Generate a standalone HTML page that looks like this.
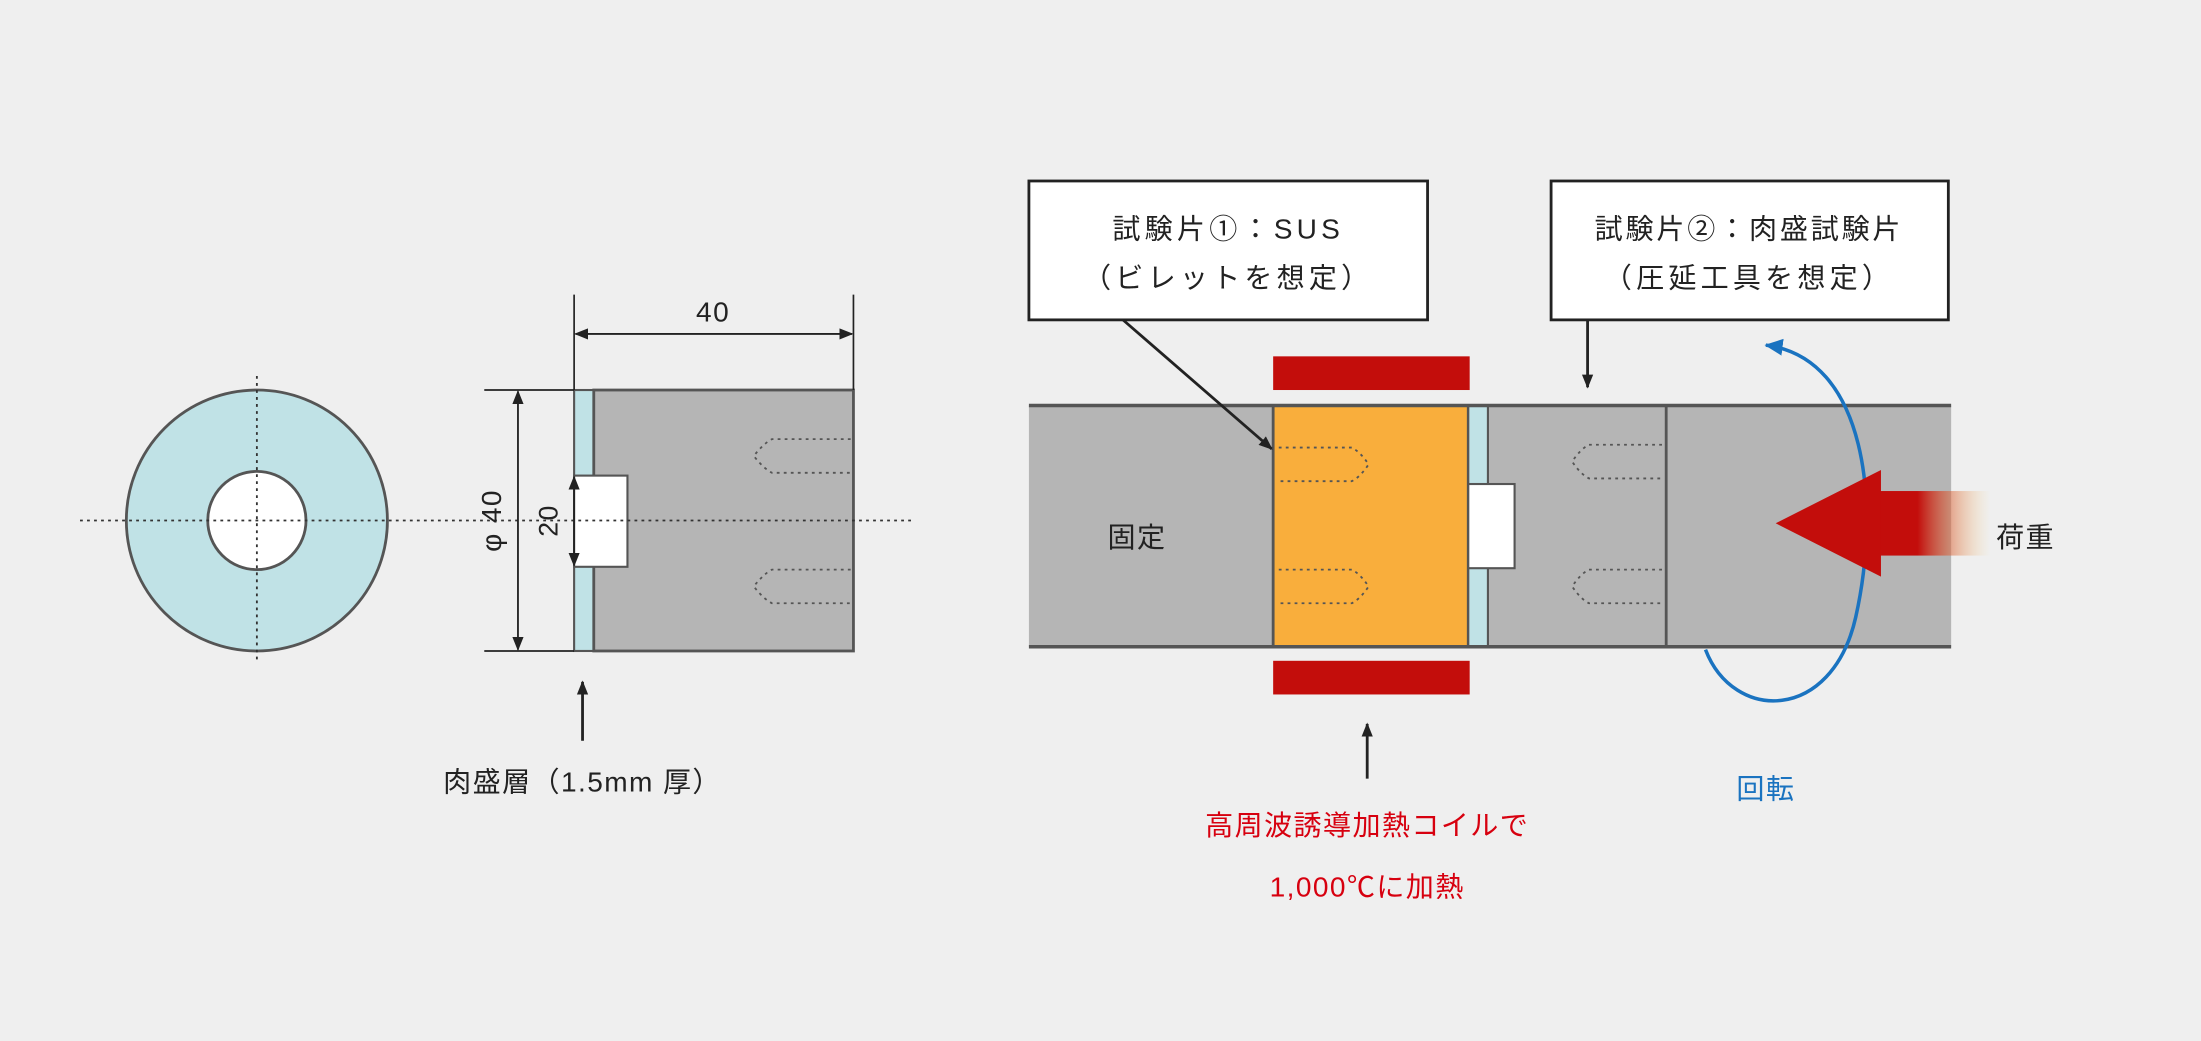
<!DOCTYPE html>
<html><head><meta charset="utf-8"><style>
html,body{margin:0;padding:0;background:#efefef;}
svg{display:block;}
text{font-family:"Liberation Sans","Noto Sans CJK JP",sans-serif;fill:#222;letter-spacing:1px;}
</style></head><body>
<svg width="2201" height="1041" viewBox="0 0 1568 742" preserveAspectRatio="none" xmlns="http://www.w3.org/2000/svg">
<defs>
<marker id="ah" markerWidth="10" markerHeight="10" refX="9" refY="5" orient="auto-start-reverse" markerUnits="userSpaceOnUse"><path d="M0,1 L10,5 L0,9 Z" fill="#222"/></marker>
<marker id="ab" markerWidth="14" markerHeight="14" refX="12" refY="7" orient="auto" markerUnits="userSpaceOnUse"><path d="M0,1 L13,7 L0,13 Z" fill="#1a73c0"/></marker>
<linearGradient id="g" x1="0" x2="1" y1="0" y2="0"><stop offset="0" stop-color="#c30d0b"/><stop offset="0.35" stop-color="#c30d0b"/><stop offset="1" stop-color="#f7d27a" stop-opacity="0"/></linearGradient>
</defs>
<rect width="1568" height="742" fill="#efefef"/>
<circle cx="183" cy="371" r="93" fill="#c0e2e6" stroke="#555" stroke-width="2"/>
<circle cx="183" cy="371" r="35" fill="#fff" stroke="#555" stroke-width="2"/>
<line x1="183" y1="268" x2="183" y2="472" stroke="#333" stroke-width="1.3" stroke-dasharray="2,3"/>
<rect x="409" y="278" width="14" height="186" fill="#c0e2e6" stroke="#555" stroke-width="1.5"/>
<rect x="423" y="278" width="185" height="186" fill="#b5b5b5" stroke="#555" stroke-width="2"/>
<rect x="409" y="339" width="38" height="65" fill="#fff" stroke="#555" stroke-width="1.5"/>
<line x1="57" y1="371" x2="650" y2="371" stroke="#333" stroke-width="1.3" stroke-dasharray="2,3"/>
<path d="M606,313 H550 Q544,316 537,325 Q544,334 550,337 H606" fill="none" stroke="#555" stroke-width="1.3" stroke-dasharray="2,3"/>
<path d="M606,406 H550 Q544,409 537,418 Q544,427 550,430 H606" fill="none" stroke="#555" stroke-width="1.3" stroke-dasharray="2,3"/>
<line x1="409" y1="210" x2="409" y2="278" stroke="#222" stroke-width="1.2"/>
<line x1="608" y1="210" x2="608" y2="278" stroke="#222" stroke-width="1.2"/>
<line x1="410" y1="238" x2="607" y2="238" stroke="#222" stroke-width="1.3" marker-end="url(#ah)" marker-start="url(#ah)"/>
<text x="508" y="229" font-size="20" text-anchor="middle">40</text>
<line x1="345" y1="278" x2="409" y2="278" stroke="#222" stroke-width="1.2"/>
<line x1="345" y1="464" x2="409" y2="464" stroke="#222" stroke-width="1.2"/>
<line x1="369" y1="279" x2="369" y2="463" stroke="#222" stroke-width="1.3" marker-end="url(#ah)" marker-start="url(#ah)"/>
<text transform="translate(357,371) rotate(-90)" font-size="20" text-anchor="middle">φ 40</text>
<line x1="409" y1="340" x2="409" y2="403" stroke="#222" stroke-width="1.3" marker-end="url(#ah)" marker-start="url(#ah)"/>
<text transform="translate(397,371) rotate(-90)" font-size="19" text-anchor="middle">20</text>
<line x1="415" y1="528" x2="415" y2="486" stroke="#222" stroke-width="2" marker-end="url(#ah)"/>
<text x="415" y="564" font-size="20" text-anchor="middle">肉盛層（1.5mm 厚）</text>
<rect x="733" y="289" width="657" height="172" fill="#b5b5b5"/>
<rect x="907" y="289" width="139" height="172" fill="#f9ae3c" stroke="#555" stroke-width="2"/>
<rect x="1046" y="289" width="14" height="172" fill="#c0e2e6" stroke="#555" stroke-width="1.5"/>
<rect x="1046" y="345" width="33" height="60" fill="#fff" stroke="#555" stroke-width="1.5"/>
<line x1="1187" y1="289" x2="1187" y2="461" stroke="#555" stroke-width="2"/>
<line x1="733" y1="289" x2="1390" y2="289" stroke="#555" stroke-width="2.5"/>
<line x1="733" y1="461" x2="1390" y2="461" stroke="#555" stroke-width="2.5"/>
<path d="M911,319 H963 Q969,322 975,331 Q969,340 963,343 H911" fill="none" stroke="#555" stroke-width="1.3" stroke-dasharray="2,3"/>
<path d="M911,406 H963 Q969,409 975,418 Q969,427 963,430 H911" fill="none" stroke="#555" stroke-width="1.3" stroke-dasharray="2,3"/>
<path d="M1184,317 H1132 Q1126,320 1120,329 Q1126,338 1132,341 H1184" fill="none" stroke="#555" stroke-width="1.3" stroke-dasharray="2,3"/>
<path d="M1184,406 H1132 Q1126,409 1120,418 Q1126,427 1132,430 H1184" fill="none" stroke="#555" stroke-width="1.3" stroke-dasharray="2,3"/>
<rect x="907" y="254" width="140" height="24" fill="#c30d0b"/>
<rect x="907" y="471" width="140" height="24" fill="#c30d0b"/>
<text x="810" y="390" font-size="20" text-anchor="middle">固定</text>
<rect x="733" y="129" width="284" height="99" fill="#fff" stroke="#222" stroke-width="2"/>
<text x="875" y="170" font-size="20" text-anchor="middle" style="letter-spacing:3px">試験片①：SUS</text>
<text x="875" y="205" font-size="20" text-anchor="middle" style="letter-spacing:3px">（ビレットを想定）</text>
<rect x="1105" y="129" width="283" height="99" fill="#fff" stroke="#222" stroke-width="2"/>
<text x="1246" y="170" font-size="20" text-anchor="middle" style="letter-spacing:2px">試験片②：肉盛試験片</text>
<text x="1246" y="205" font-size="20" text-anchor="middle" style="letter-spacing:3px">（圧延工具を想定）</text>
<line x1="800" y1="228" x2="906" y2="320" stroke="#222" stroke-width="2" marker-end="url(#ah)"/>
<line x1="1131" y1="228" x2="1131" y2="276" stroke="#222" stroke-width="2" marker-end="url(#ah)"/>
<path d="M1215,463 C1235,515 1305,515 1322,440 C1340,360 1330,255 1258,246" fill="none" stroke="#1a73c0" stroke-width="2.5" marker-end="url(#ab)"/>
<rect x="1338" y="350" width="80" height="46" fill="url(#g)"/>
<path d="M1265,373 L1340,335 L1340,411 Z" fill="#c30d0b"/>
<text x="1443" y="390" font-size="20" text-anchor="middle">荷重</text>
<text x="1258" y="569" font-size="20" text-anchor="middle" style="fill:#1a73c0">回転</text>
<line x1="974" y1="555" x2="974" y2="516" stroke="#222" stroke-width="2" marker-end="url(#ah)"/>
<text x="974" y="595" font-size="20" text-anchor="middle" style="fill:#d7000f">高周波誘導加熱コイルで</text>
<text x="974" y="639" font-size="20" text-anchor="middle" style="fill:#d7000f">1,000℃に加熱</text>
</svg>
</body></html>
